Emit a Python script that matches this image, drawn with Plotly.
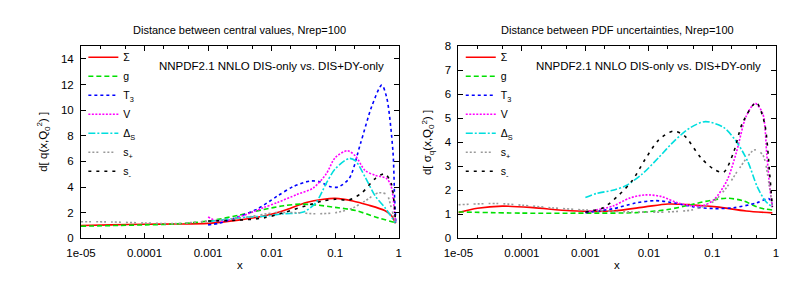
import plotly.graph_objects as go

FONT = "Liberation Sans, Arial, Helvetica, sans-serif"

# ---------------- legend / series meta ----------------
series_names = ["Σ", "g", "T<sub>3</sub>", "V", "Δ<sub>S</sub>", "s<sub>+</sub>", "s<sub>-</sub>"]
series_colors = ["#ff0000", "#00e000", "#0000ff", "#ff00ff", "#00dede", "#999999", "#000000"]
series_dashes = ["solid", "5px,3px", "3px,3px", "2px,1.5px", "7px,2px,2px,2px",
                 "2px,2px,2px,2px,2px,5px", "3px,5px"]

# ---------------- left panel: distance between central values ----------------
cv_sigma_x = [1e-5, 3e-5, 1e-4, 3e-4, 1e-3, 3e-3, 8.5e-3, 0.0174, 0.035, 0.065, 0.1, 0.19, 0.33, 0.6, 0.76, 0.89]
cv_sigma_y = [1.0, 1.05, 1.1, 1.12, 1.17, 1.42, 1.8, 2.25, 2.8, 3.05, 3.12, 2.92, 2.6, 2.17, 1.8, 1.17]

cv_g_x = [1e-5, 1e-4, 3e-4, 1e-3, 3e-3, 7.5e-3, 0.0155, 0.028, 0.05, 0.1, 0.21, 0.43, 0.89]
cv_g_y = [0.95, 1.05, 1.12, 1.35, 1.8, 2.25, 2.55, 2.67, 2.6, 2.42, 2.17, 1.67, 1.22]

cv_t3_x = [1e-3, 1.46e-3, 2.95e-3, 6e-3, 0.0123, 0.0221, 0.0398, 0.0569, 0.0813, 0.11, 0.166, 0.25, 0.376, 0.54, 0.646, 0.81, 0.86, 0.9]
cv_t3_y = [1.05, 1.17, 1.67, 2.3, 3.3, 4.05, 4.47, 4.42, 4.05, 4.0, 4.67, 7.4, 10.3, 11.96, 11.0, 6.8, 3.2, 1.2]

cv_v_x = [1e-3, 1.4e-3, 2.2e-3, 4.7e-3, 7.5e-3, 0.0123, 0.025, 0.0447, 0.0724, 0.1, 0.155, 0.209, 0.295, 0.427, 0.646, 0.76, 0.86, 0.89]
cv_v_y = [1.67, 1.35, 1.45, 2.0, 2.4, 2.8, 3.42, 3.92, 5.04, 6.3, 6.84, 6.42, 5.3, 4.92, 4.67, 4.05, 2.05, 1.2]

cv_ds_x = [1e-3, 4.3e-3, 7.6e-3, 0.0155, 0.0316, 0.05, 0.0724, 0.1, 0.166, 0.209, 0.295, 0.427, 0.6, 0.89]
cv_ds_y = [1.3, 1.67, 1.72, 1.92, 2.05, 2.8, 4.3, 5.42, 6.24, 6.04, 4.8, 3.3, 2.42, 1.2]

cv_sp_x = [1e-5, 3e-5, 1e-4, 3e-4, 1e-3, 4.3e-3, 0.011, 0.025, 0.05, 0.1, 0.186, 0.295, 0.48, 0.646, 0.76, 0.89]
cv_sp_y = [1.3, 1.28, 1.2, 1.15, 1.35, 1.67, 2.0, 2.0, 1.92, 2.0, 2.35, 2.92, 3.55, 3.42, 2.42, 1.22]

cv_sm_x = [1e-3, 3e-3, 7.6e-3, 0.0155, 0.035, 0.065, 0.1, 0.166, 0.263, 0.427, 0.6, 0.76, 0.89]
cv_sm_y = [1.35, 1.42, 1.6, 2.0, 2.55, 2.92, 3.05, 3.0, 3.55, 4.67, 5.04, 4.3, 1.22]

# ---------------- right panel: distance between PDF uncertainties ----------------
er_sigma_x = [1e-5, 2e-5, 4.9e-5, 1.5e-4, 5.8e-4, 2.7e-3, 8.7e-3, 0.02, 0.0457, 0.117, 0.34, 0.88]
er_sigma_y = [1.07, 1.25, 1.34, 1.28, 1.15, 1.14, 1.31, 1.43, 1.4, 1.31, 1.14, 1.06]

er_g_x = [1e-5, 1e-4, 1e-3, 6.2e-3, 0.02, 0.0457, 0.093, 0.17, 0.3, 0.55, 0.88]
er_g_y = [1.1, 1.05, 1.05, 1.07, 1.2, 1.4, 1.58, 1.67, 1.57, 1.27, 1.18]

er_t3_x = [1e-3, 2.7e-3, 6.2e-3, 0.0126, 0.0257, 0.051, 0.105, 0.214, 0.49, 0.78, 0.88]
er_t3_y = [1.07, 1.23, 1.47, 1.57, 1.47, 1.31, 1.24, 1.27, 1.47, 1.65, 1.4]

er_v_x = [1e-3, 2.7e-3, 4.9e-3, 8.7e-3, 0.0158, 0.029, 0.066, 0.105, 0.17, 0.24, 0.34, 0.47, 0.62, 0.72, 0.8, 0.88]
er_v_y = [1.1, 1.34, 1.67, 1.81, 1.74, 1.47, 1.34, 1.6, 2.41, 3.6, 5.08, 5.62, 5.2, 3.48, 2.14, 1.3]

er_ds_x = [1e-3, 1.5e-3, 2.7e-3, 4.4e-3, 7.8e-3, 0.0141, 0.0257, 0.0457, 0.078, 0.15, 0.24, 0.36, 0.51, 0.69, 0.88]
er_ds_y = [1.7, 1.87, 2.0, 2.2, 2.67, 3.35, 4.08, 4.62, 4.86, 4.62, 4.02, 3.21, 2.14, 1.54, 1.3]

er_sp_x = [1e-5, 4e-5, 1e-4, 3e-4, 1e-3, 5e-3, 0.02, 0.051, 0.105, 0.17, 0.27, 0.46, 0.62, 0.78, 0.88]
er_sp_y = [1.4, 1.45, 1.38, 1.27, 1.18, 1.1, 1.1, 1.2, 1.54, 2.14, 2.94, 3.68, 3.48, 2.27, 1.25]

er_sm_x = [1e-3, 1.9e-3, 3.4e-3, 5.5e-3, 8.7e-3, 0.0141, 0.024, 0.036, 0.066, 0.105, 0.15, 0.214, 0.3, 0.49, 0.66, 0.8, 0.88]
er_sm_y = [1.1, 1.27, 1.81, 2.41, 3.28, 4.08, 4.46, 4.28, 3.35, 2.88, 2.75, 3.55, 4.82, 5.65, 4.82, 2.67, 1.3]

left_series = [(cv_sigma_x, cv_sigma_y), (cv_g_x, cv_g_y), (cv_t3_x, cv_t3_y), (cv_v_x, cv_v_y),
               (cv_ds_x, cv_ds_y), (cv_sp_x, cv_sp_y), (cv_sm_x, cv_sm_y)]
right_series = [(er_sigma_x, er_sigma_y), (er_g_x, er_g_y), (er_t3_x, er_t3_y), (er_v_x, er_v_y),
                (er_ds_x, er_ds_y), (er_sp_x, er_sp_y), (er_sm_x, er_sm_y)]

x_tickvals = [1e-5, 1e-4, 1e-3, 1e-2, 1e-1, 1]
x_ticktext = ["1e-05", "0.0001", "0.001", "0.01", "0.1", "1"]

fig = go.Figure()

for i, (xs, ys) in enumerate(left_series):
    fig.add_trace(go.Scatter(
        x=xs, y=ys, mode="lines", name=series_names[i],
        line=dict(color=series_colors[i], dash=series_dashes[i], width=1.6,
                  shape="spline", smoothing=0.8),
        xaxis="x", yaxis="y", legend="legend"))

for i, (xs, ys) in enumerate(right_series):
    fig.add_trace(go.Scatter(
        x=xs, y=ys, mode="lines", name=series_names[i],
        line=dict(color=series_colors[i], dash=series_dashes[i], width=1.6,
                  shape="spline", smoothing=0.8),
        xaxis="x2", yaxis="y2", legend="legend2"))

W, H = 809, 297
L1, R1 = 59.3 / W, 384.3 / W
L2, R2 = 445.3 / W, 770.0 / W
B, T = 1 - 233.8 / H, 1 - 33.5 / H

common_x = dict(type="log", range=[-5, 0], tickvals=x_tickvals, ticktext=x_ticktext,
                ticks="inside", ticklen=5, mirror="ticks", showline=True, linecolor="#000",
                linewidth=1, showgrid=False, zeroline=False, tickcolor="#000",
                minor=dict(ticks="inside", ticklen=3, dtick="D2", tickcolor="#000", showgrid=False),
                tickfont=dict(family=FONT, size=11.5, color="#000"), ticklabelstandoff=4)
common_y = dict(ticks="inside", ticklen=5, mirror="ticks", showline=True, linecolor="#000",
                linewidth=1, showgrid=False, zeroline=False, tickcolor="#000",
                tickfont=dict(family=FONT, size=11.5, color="#000"), ticklabelstandoff=4)

legend_common = dict(bgcolor="rgba(0,0,0,0)", borderwidth=0, itemwidth=30,
                     font=dict(family=FONT, size=10.5, color="#000"),
                     xanchor="left", yanchor="top", tracegroupgap=0, itemclick=False)

fig.update_layout(
    width=W, height=H,
    margin=dict(l=0, r=0, t=0, b=0),
    paper_bgcolor="white", plot_bgcolor="white",
    font=dict(family=FONT, color="#000"),
    xaxis=dict(domain=[L1, R1], anchor="y", **common_x),
    yaxis=dict(domain=[B, T], anchor="x", range=[0, 15], dtick=2, **common_y),
    xaxis2=dict(domain=[L2, R2], anchor="y2", **common_x),
    yaxis2=dict(domain=[B, T], anchor="x2", range=[0, 8], dtick=1, **common_y),
    legend=dict(x=L1 + 0.003, y=T + 0.012, **legend_common),
    legend2=dict(x=L2 + 0.003, y=T + 0.012, **legend_common),
    showlegend=True,
    annotations=[
        dict(text="Distance between central values, Nrep=100", xref="paper", yref="paper",
             x=(L1 + R1) / 2, y=1 - 17 / H, showarrow=False, xanchor="center", yanchor="middle",
             font=dict(family=FONT, size=11, color="#000")),
        dict(text="Distance between PDF uncertainties, Nrep=100", xref="paper", yref="paper",
             x=(L2 + R2) / 2, y=1 - 17 / H, showarrow=False, xanchor="center", yanchor="middle",
             font=dict(family=FONT, size=11, color="#000")),
        dict(text="NNPDF2.1 NNLO DIS-only vs. DIS+DY-only", xref="paper", yref="paper",
             x=371.5 / W, y=1 - 54.5 / H, showarrow=False, xanchor="right", yanchor="middle",
             font=dict(family=FONT, size=11.5, color="#000")),
        dict(text="NNPDF2.1 NNLO DIS-only vs. DIS+DY-only", xref="paper", yref="paper",
             x=757 / W, y=1 - 54.5 / H, showarrow=False, xanchor="right", yanchor="middle",
             font=dict(family=FONT, size=11.5, color="#000")),
        dict(text="x", xref="paper", yref="paper", x=(L1 + R1) / 2, y=1 - 261.5 / H,
             showarrow=False, xanchor="center", yanchor="middle",
             font=dict(family=FONT, size=11.5, color="#000")),
        dict(text="x", xref="paper", yref="paper", x=(L2 + R2) / 2, y=1 - 261.5 / H,
             showarrow=False, xanchor="center", yanchor="middle",
             font=dict(family=FONT, size=11.5, color="#000")),
        dict(text="d[ q(x,Q<sub>0</sub><sup>2</sup>) ]", xref="paper", yref="paper",
             x=21 / W, y=(B + T) / 2, showarrow=False, textangle=-90,
             xanchor="center", yanchor="middle",
             font=dict(family=FONT, size=11.5, color="#000")),
        dict(text="d[ σ<sub>q</sub>(x,Q<sub>0</sub><sup>2</sup>) ]", xref="paper", yref="paper",
             x=414 / W, y=(B + T) / 2, showarrow=False, textangle=-90,
             xanchor="center", yanchor="middle",
             font=dict(family=FONT, size=11.5, color="#000")),
    ],
)

fig.write_html("out.html")
